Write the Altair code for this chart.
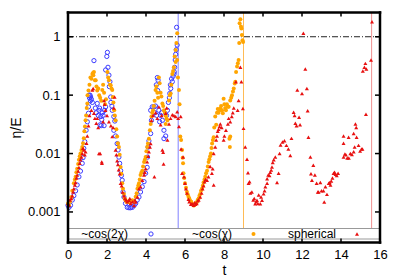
import altair as alt
import pandas as pd

# ~cos(2chi) series (blue open circles)
blue_t = [0.0, 0.05, 0.13, 0.22, 0.3, 0.39, 0.47, 0.56, 0.64, 0.73, 0.77, 0.81, 0.86, 0.93, 0.99, 1.05, 1.05, 1.1,
          1.16, 1.13, 1.2, 1.25, 1.33, 1.5, 1.59, 1.68, 1.64, 1.76, 1.73, 1.85, 1.93, 1.93, 2.02, 1.99, 2.1, 2.15,
          2.19, 2.27, 2.35, 2.4, 2.35, 2.44, 2.52, 2.57, 2.61, 2.65, 2.7, 2.74, 2.78, 2.82, 2.87, 2.95, 3.04, 3.13,
          3.21, 3.3, 3.39, 3.47, 3.55, 3.64, 3.72, 3.81, 3.9, 3.98, 4.06, 4.08, 4.11, 4.15, 4.24, 4.28, 4.24, 4.32,
          4.41, 4.49, 4.58, 4.62, 4.53, 4.66, 4.75, 4.84, 4.92, 5.01, 4.92, 5.05, 5.1, 5.22, 5.27, 5.35, 5.31, 5.39,
          5.44, 5.47, 5.57, 5.6, 1.08, 1.15, 1.4, 1.45, 1.55, 1.62, 1.7, 1.8, 1.88, 2.05, 2.12, 2.2, 2.25, 4.45,
          4.55, 4.6, 4.7, 4.8, 5.15, 5.2, 5.25, 5.45, 5.5, 5.52, 5.55]
blue_v = [0.0013, 0.0012, 0.0013, 0.0016, 0.0019, 0.0023, 0.0029, 0.004, 0.005, 0.0068, 0.0085, 0.0123, 0.016, 0.025,
          0.035, 0.049, 0.063, 0.09, 0.093, 0.1, 0.085, 0.075, 0.39, 0.072, 0.055, 0.043, 0.031, 0.05, 0.038, 0.03,
          0.063, 0.27, 0.54, 0.46, 0.22, 0.17, 0.093, 0.055, 0.043, 0.036, 0.025, 0.02, 0.0148, 0.0115, 0.0087,
          0.0068, 0.0051, 0.0042, 0.0035, 0.0022, 0.0018, 0.0014, 0.0012, 0.00118, 0.00118, 0.0012, 0.00129,
          0.0014, 0.0016, 0.0018, 0.0022, 0.0027, 0.0033, 0.0046, 0.0058, 0.0087, 0.0129, 0.0165, 0.022, 0.037,
          0.055, 0.063, 0.063, 0.065, 0.2, 0.18, 0.15, 0.055, 0.045, 0.037, 0.025, 0.02, 0.018, 0.045, 0.055, 0.107,
          0.13, 0.17, 0.19, 0.21, 0.23, 0.3, 1.45, 0.72, 0.1, 0.08, 0.06, 0.05, 0.045, 0.06, 0.03, 0.045, 0.055,
          0.3, 0.14, 0.075, 0.065, 0.05, 0.045, 0.12, 0.035, 0.05, 0.075, 0.09, 0.15, 0.25, 0.4, 0.5, 0.6]

# ~cos(chi) series (orange dots)
orange_t = [0.0, 0.05, 0.1, 0.17, 0.22, 0.3, 0.35, 0.39, 0.43, 0.47, 0.52, 0.56, 0.6, 0.64, 0.69, 0.73, 0.77, 0.81,
            0.84, 0.87, 0.9, 0.93, 0.96, 0.99, 1.0, 1.05, 1.1, 1.15, 1.2, 1.25, 1.28, 1.33, 1.3, 1.38, 1.42, 1.46,
            1.5, 1.55, 1.6, 1.65, 1.7, 1.76, 1.8, 1.85, 1.9, 1.95, 2.02, 2.06, 2.1, 2.15, 2.19, 2.23, 2.27, 2.3,
            2.33, 2.37, 2.4, 2.44, 2.48, 2.52, 2.56, 2.61, 2.65, 2.7, 2.74, 2.78, 2.82, 2.87, 2.91, 2.95, 3.0, 3.05,
            3.13, 3.2, 3.3, 3.39, 3.47, 3.52, 3.56, 3.6, 3.64, 3.68, 3.72, 3.76, 3.81, 3.85, 3.9, 3.94, 3.98, 4.02,
            4.06, 4.1, 4.15, 4.2, 4.24, 4.28, 4.32, 4.36, 4.4, 4.44, 4.49, 4.53, 4.58, 4.62, 4.66, 4.7, 4.75, 4.79,
            4.84, 4.88, 4.92, 4.97, 5.01, 5.05, 5.01, 5.1, 5.18, 5.22, 5.26, 5.3, 5.35, 5.39, 5.43, 5.47, 5.52,
            5.52, 5.56, 5.6, 5.6, 5.64, 5.69, 5.72, 5.76, 5.8, 5.85, 5.88, 5.9, 5.92, 5.96, 6.0, 6.05, 6.1, 6.14,
            6.18, 6.22, 6.27, 6.32, 6.36, 6.4, 6.44, 6.48, 6.53, 6.57, 6.61, 6.65, 6.7, 6.74, 6.78, 6.82, 6.87,
            6.91, 6.95, 7.0, 7.04, 7.08, 7.13, 7.17, 7.21, 7.25, 7.29, 7.33, 7.36, 7.39, 7.43, 7.47, 7.5, 7.55,
            7.6, 7.64, 7.68, 7.72, 7.77, 7.81, 7.85, 7.9, 7.94, 7.98, 8.02, 8.06, 8.1, 8.15, 8.2, 8.24, 8.28, 8.32,
            8.3, 8.32, 8.37, 8.41, 8.46, 8.5, 8.55, 8.58, 8.62, 8.67, 8.71, 8.75, 8.78, 8.8, 8.84, 8.87, 8.89,
            8.92, 8.95, 8.98]
orange_v = [0.0014, 0.0013, 0.0015, 0.0018, 0.0023, 0.0031, 0.0036, 0.004, 0.0048, 0.0055, 0.0066, 0.0078, 0.009,
            0.01, 0.0115, 0.0129, 0.015, 0.0182, 0.024, 0.029, 0.037, 0.045, 0.06, 0.072, 0.1, 0.12, 0.15, 0.2,
            0.19, 0.23, 0.24, 0.25, 0.22, 0.18, 0.18, 0.14, 0.12, 0.13, 0.1, 0.09, 0.08, 0.123, 0.15, 0.11, 0.07,
            0.085, 0.25, 0.2, 0.18, 0.15, 0.148, 0.13, 0.123, 0.093, 0.075, 0.055, 0.045, 0.037, 0.026, 0.0195,
            0.015, 0.0129, 0.0095, 0.0059, 0.0045, 0.0031, 0.0025, 0.00204, 0.0017, 0.0016, 0.0015, 0.0015,
            0.00148, 0.0015, 0.00158, 0.0015, 0.00182, 0.0021, 0.0025, 0.0028, 0.0031, 0.0036, 0.0043, 0.0047,
            0.0051, 0.006, 0.0072, 0.0078, 0.0087, 0.011, 0.013, 0.0148, 0.018, 0.025, 0.032, 0.043, 0.05, 0.055,
            0.065, 0.08, 0.123, 0.14, 0.11, 0.09, 0.2, 0.16, 0.11, 0.095, 0.072, 0.065, 0.055, 0.05, 0.045, 0.04,
            0.032, 0.037, 0.081, 0.1, 0.107, 0.15, 0.23, 0.26, 0.3, 0.46, 0.59, 0.37, 0.78, 1.15, 0.4, 0.2, 0.123,
            0.07, 0.0195, 0.017, 0.0115, 0.0085, 0.0068, 0.0046, 0.0038, 0.0031, 0.0026, 0.00219, 0.002, 0.00182,
            0.0017, 0.00155, 0.0015, 0.00138, 0.00135, 0.00129, 0.0013, 0.00138, 0.0014, 0.00148, 0.0016, 0.0017,
            0.0019, 0.00204, 0.0023, 0.0025, 0.0028, 0.0032, 0.0036, 0.004, 0.0046, 0.0051, 0.006, 0.0072, 0.008,
            0.009, 0.01, 0.0125, 0.0148, 0.017, 0.019, 0.028, 0.043, 0.031, 0.05, 0.058, 0.05, 0.055, 0.059, 0.065,
            0.055, 0.049, 0.087, 0.07, 0.06, 0.055, 0.07, 0.063, 0.063, 0.018, 0.0195, 0.0129, 0.081, 0.09, 0.1,
            0.115, 0.13, 0.158, 0.17, 0.25, 0.31, 0.35, 0.4, 0.78, 1.7, 2.0, 1.5, 1.38, 1.07, 0.87, 0.81]

# spherical series (red triangles)
red_t = [0.0, 0.05, 0.1, 0.17, 0.22, 0.26, 0.3, 0.35, 0.39, 0.43, 0.47, 0.52, 0.56, 0.6, 0.64, 0.69, 0.73, 0.77,
         0.81, 0.86, 0.9, 0.95, 0.99, 1.05, 1.1, 1.2, 1.25, 1.29, 1.33, 1.38, 1.45, 1.5, 1.55, 1.59, 1.65, 1.73,
         1.74, 1.8, 1.85, 1.88, 1.92, 2.0, 2.1, 2.2, 2.27, 2.31, 2.39, 2.35, 2.44, 2.48, 2.52, 2.56, 2.6, 2.65,
         2.7, 2.75, 2.8, 2.87, 2.92, 2.98, 3.04, 3.13, 3.17, 3.21, 3.3, 3.39, 3.43, 3.47, 3.56, 3.64, 3.72, 3.81,
         3.9, 3.94, 3.98, 4.06, 4.11, 4.15, 4.2, 4.24, 4.28, 4.36, 4.43, 4.49, 4.58, 4.66, 4.75, 4.8, 4.84, 4.88,
         4.9, 5.01, 5.06, 5.1, 5.18, 5.26, 5.35, 5.43, 5.52, 5.6, 5.65, 5.69, 5.78, 5.8, 5.85, 5.9, 5.95, 6.0,
         6.05, 6.1, 6.18, 6.22, 6.3, 6.36, 6.44, 6.5, 6.53, 6.6, 6.65, 6.7, 6.78, 6.85, 6.9, 6.95, 7.0, 7.05,
         7.13, 7.2, 7.29, 7.38, 7.42, 7.47, 7.47, 7.55, 7.6, 7.64, 7.68, 7.72, 7.77, 7.81, 7.88, 7.98, 8.02,
         8.1, 8.2, 8.24, 8.32, 8.4, 8.45, 8.5, 8.61, 8.7, 8.75, 8.84, 8.89, 8.97, 9.0, 9.09, 9.18, 9.23, 9.26,
         9.31, 9.35, 9.43, 9.5, 9.55, 9.6, 9.65, 9.69, 9.74, 9.78, 9.86, 9.9, 9.95, 10.03, 10.08, 10.12, 10.21,
         10.21, 10.27, 10.33, 10.37, 10.42, 10.46, 10.5, 10.55, 10.63, 10.72, 10.8, 10.85, 10.9, 11.0, 11.1,
         11.2, 11.3, 11.4, 11.46, 11.57, 11.62, 11.66, 11.72, 11.76, 11.85, 11.9, 12.0, 12.07, 12.17, 12.25,
         12.29, 12.33, 12.43, 12.46, 12.51, 12.58, 12.66, 12.75, 12.81, 12.85, 12.94, 13.0, 13.1, 13.14, 13.2,
         13.28, 13.37, 13.42, 13.46, 13.5, 13.56, 13.62, 13.67, 13.72, 13.78, 13.85, 14.13, 14.13, 14.13, 14.2,
         14.25, 14.32, 14.39, 14.4, 14.48, 14.56, 14.65, 14.65, 14.7, 14.74, 14.78, 14.8, 14.9, 14.98, 15.05,
         15.1, 15.12, 15.2, 15.25, 15.28, 15.3, 15.54, 15.59]
red_v = [0.0014, 0.0013, 0.0016, 0.0017, 0.0019, 0.0022, 0.0025, 0.0029, 0.0032, 0.0038, 0.0043, 0.005, 0.0058,
         0.0068, 0.0078, 0.0087, 0.01, 0.0123, 0.0115, 0.0095, 0.0107, 0.015, 0.02, 0.03, 0.045, 0.055, 0.123,
         0.13, 0.049, 0.04, 0.033, 0.04, 0.028, 0.01, 0.01, 0.0072, 0.0068, 0.035, 0.081, 0.07, 0.055, 0.045,
         0.035, 0.03, 0.0195, 0.028, 0.093, 0.06, 0.0115, 0.0095, 0.0075, 0.0065, 0.0053, 0.0045, 0.0031, 0.0028,
         0.0022, 0.0019, 0.0017, 0.0016, 0.0015, 0.00158, 0.0017, 0.0014, 0.0015, 0.00129, 0.0016, 0.00148,
         0.0018, 0.0025, 0.0027, 0.0035, 0.0043, 0.0048, 0.0055, 0.0072, 0.009, 0.0107, 0.013, 0.0148, 0.037,
         0.045, 0.004, 0.05, 0.04, 0.063, 0.031, 0.045, 0.0115, 0.0105, 0.0066, 0.049, 0.06, 0.017, 0.032, 0.04,
         0.046, 0.045, 0.043, 0.052, 0.04, 0.029, 0.043, 0.012, 0.0046, 0.0087, 0.004, 0.0031, 0.0025, 0.0021,
         0.00165, 0.0015, 0.00135, 0.0014, 0.0013, 0.00145, 0.00135, 0.0014, 0.00155, 0.0016, 0.0018, 0.0021,
         0.0025, 0.0028, 0.0033, 0.0036, 0.0035, 0.004, 0.006, 0.0046, 0.0055, 0.0029, 0.01, 0.013, 0.017, 0.02,
         0.024, 0.026, 0.029, 0.032, 0.028, 0.017, 0.02, 0.025, 0.032, 0.04, 0.035, 0.043, 0.05, 0.06, 0.17,
         0.055, 0.081, 0.3, 0.17, 0.059, 0.027, 0.0129, 0.008, 0.0047, 0.0031, 0.0033, 0.0021, 0.0022, 0.0016,
         0.0017, 0.00138, 0.0015, 0.00158, 0.0014, 0.00195, 0.00138, 0.0018, 0.00158, 0.00204, 0.0023, 0.0027,
         0.0031, 0.0037, 0.0043, 0.0042, 0.0048, 0.0052, 0.0059, 0.007, 0.0078, 0.0087, 0.0032, 0.0046, 0.01,
         0.014, 0.0158, 0.0165, 0.0138, 0.012, 0.0093, 0.0182, 0.051, 0.045, 0.033, 0.03, 0.123, 0.042, 0.031,
         0.107, 1.15, 0.28, 0.13, 0.054, 0.019, 0.0087, 0.0045, 0.0035, 0.0063, 0.0043, 0.0031, 0.00219, 0.0022,
         0.0032, 0.0023, 0.0023, 0.00148, 0.0027, 0.002, 0.0031, 0.0032, 0.0029, 0.0034, 0.0038, 0.0046, 0.0048,
         0.0044, 0.0042, 0.0046, 0.0087, 0.015, 0.02, 0.0098, 0.0095, 0.0084, 0.019, 0.0084, 0.01, 0.0096,
         0.0107, 0.022, 0.013, 0.032, 0.028, 0.019, 0.0138, 0.011, 0.012, 0.012, 0.26, 0.3, 0.35, 0.047, 0.28,
         0.4, 1.8]

# vertical marker lines (t where each run ends)
vline_t = [5.65, 9.0, 15.57]
vline_color = ["#8080ff", "#ffbb55", "#f09090"]

x_ticks = [0, 2, 4, 6, 8, 10, 12, 14, 16]
y_ticks = [0.001, 0.01, 0.1, 1]
ref_level = [1]

W, H = 312, 230
FONT = "Liberation Sans"

xs = alt.Scale(domain=[0, 16], nice=False, zero=False)
ys = alt.Scale(type="log", domain=[0.0003, 2.6], nice=False)

xaxis = alt.Axis(values=x_ticks, ticks=False, domain=False, grid=False, labelFontSize=13,
                 labelPadding=6, title="t", titleFontSize=14, titleFontWeight="normal",
                 titlePadding=2, labelFlush=False, labelColor="#000", titleColor="#000")
yaxis = alt.Axis(values=y_ticks, format="~g", ticks=False, domain=False, grid=False, labelFontSize=13,
                 labelPadding=8, title="η/E", titleFontSize=14, titleFontWeight="normal",
                 titlePadding=4, labelColor="#000", titleColor="#000")

X = alt.X("t:Q", scale=xs, axis=xaxis)
Y = alt.Y("v:Q", scale=ys, axis=yaxis)


def df(t, v):
    return pd.DataFrame({"t": t, "v": v})


LEG_TOP = 216

vlines = alt.Chart(pd.DataFrame({"t": vline_t, "c": vline_color})).mark_rule(strokeWidth=1).encode(
    x=X, y=alt.value(0), y2=alt.value(LEG_TOP), color=alt.Color("c:N", scale=None))

hline = alt.Chart(pd.DataFrame({"v": ref_level})).mark_rule(
    color="#222", strokeWidth=1, strokeDash=[6, 2, 1, 2]).encode(
    y=Y, x=alt.value(0), x2=alt.value(W))

blue = alt.Chart(df(blue_t, blue_v)).mark_point(
    shape="circle", filled=False, color="#3c3cff", size=18, strokeWidth=1, opacity=1).encode(x=X, y=Y)
orange = alt.Chart(df(orange_t, orange_v)).mark_point(
    shape="circle", filled=True, color="#ffa500", size=16, opacity=1).encode(x=X, y=Y)
red = alt.Chart(df(red_t, red_v)).mark_point(
    shape="triangle-up", filled=True, color="#e81010", size=16, opacity=1).encode(x=X, y=Y)

# legend box (gnuplot style key inside the plot, at the bottom)
one = pd.DataFrame({"k": [0]})
box = alt.Chart(one).mark_rect(fill="white", stroke="#999", strokeWidth=1).encode(
    x=alt.value(0), x2=alt.value(W), y=alt.value(LEG_TOP), y2=alt.value(226.5))


def ltext(txt, xr):
    return alt.Chart(one).mark_text(text=txt, align="right", baseline="middle", fontSize=12,
                                    font=FONT, color="#000").encode(x=alt.value(xr), y=alt.value(221.5))


leg = [
    box,
    ltext("~cos(2χ)", 60),
    ltext("~cos(χ)", 164),
    ltext("spherical", 268),
    alt.Chart(one).mark_point(shape="circle", filled=False, color="#3c3cff", size=18, strokeWidth=1,
                              opacity=1).encode(x=alt.value(83), y=alt.value(221.5)),
    alt.Chart(one).mark_point(shape="circle", filled=True, color="#ffa500", size=16,
                              opacity=1).encode(x=alt.value(185.5), y=alt.value(221.5)),
    alt.Chart(one).mark_point(shape="triangle-up", filled=True, color="#e81010", size=16,
                              opacity=1).encode(x=alt.value(289), y=alt.value(221.5)),
]

# inward ticks (mirrored on all four sides)
inner_x = pd.DataFrame({"t": x_ticks[1:-1]})
inner_y = pd.DataFrame({"v": y_ticks})
tk = dict(color="black", strokeWidth=1.5)
ticks = [
    alt.Chart(inner_x).mark_rule(**tk).encode(x=X, y=alt.value(H), y2=alt.value(H - 4)),
    alt.Chart(inner_x).mark_rule(**tk).encode(x=X, y=alt.value(0), y2=alt.value(4)),
    alt.Chart(inner_y).mark_rule(**tk).encode(y=Y, x=alt.value(0), x2=alt.value(5)),
    alt.Chart(inner_y).mark_rule(**tk).encode(y=Y, x=alt.value(W), x2=alt.value(W - 5)),
]

# black frame around the plot area, drawn as four rules
fr = dict(color="black", strokeWidth=2.5, strokeCap="square")
frame = [
    alt.Chart(one).mark_rule(**fr).encode(x=alt.value(0), x2=alt.value(W), y=alt.value(0)),
    alt.Chart(one).mark_rule(**fr).encode(x=alt.value(0), x2=alt.value(W), y=alt.value(H)),
    alt.Chart(one).mark_rule(**fr).encode(y=alt.value(0), y2=alt.value(H), x=alt.value(0)),
    alt.Chart(one).mark_rule(**fr).encode(y=alt.value(0), y2=alt.value(H), x=alt.value(W)),
]

chart = alt.layer(vlines, hline, blue, orange, red, *leg, *ticks, *frame).properties(
    width=W, height=H,
    padding={"left": 60, "top": 4.5, "right": 10, "bottom": 40},
    autosize=alt.AutoSizeParams(type="none"),
).configure(font=FONT, background="white").configure_view(strokeWidth=0)

chart.save("out.html", embed_options={"renderer": "svg", "actions": False})
